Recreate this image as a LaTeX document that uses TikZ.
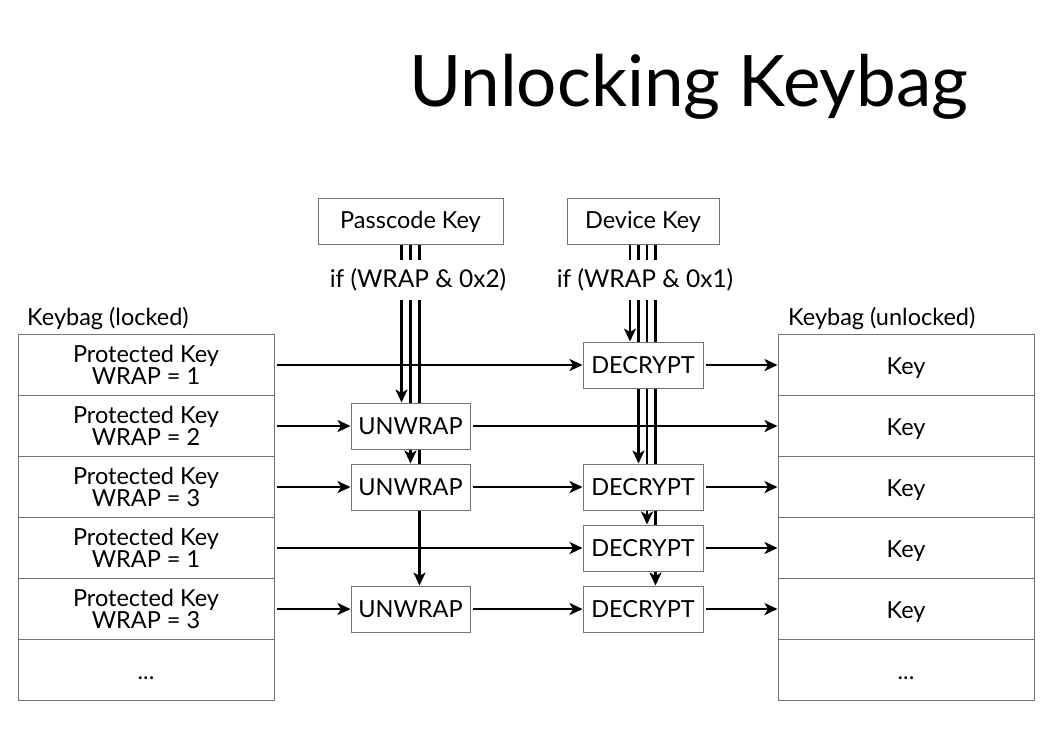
\documentclass[tikz,border=0pt]{standalone}
\usepackage{fontspec}
\setmainfont{Lato}
\usetikzlibrary{arrows.meta,backgrounds}
\begin{document}
\begin{tikzpicture}[x=1pt,y=-1pt,
  every node/.style={font=\fontsize{23.5}{22}\selectfont, inner sep=0pt},
  cellbox/.style={draw=black!55, line width=1pt, minimum width=256pt, minimum height=61pt},
  cell/.style={cellbox, align=center},
  onecell/.style={cellbox, text height=18pt, text depth=0pt},
  opbox/.style={draw=black!55, line width=1pt, fill=white, minimum width=120pt, minimum height=46pt},
  keybox/.style={draw=black!55, line width=1pt, fill=white, minimum height=46pt},
  arr/.style={line width=2.9pt, -{Stealth[length=13pt,width=12pt,inset=3.5pt]}},
  harr/.style={arr, shorten <=2.5pt},
  cond/.style={fill=white, minimum height=40pt, inner xsep=3pt, font=\fontsize{24.5}{24}\selectfont},
  lbl/.style={anchor=base west}
]
\useasboundingbox (0,0) rectangle (1059,740);

% title
\node[lbl, font=\fontsize{71}{71}\selectfont] (title) at (409,106) {Unlocking Keybag};

% keybag labels
\node[lbl] (kl) at (27,325) {Keybag (locked)};
\node[lbl] (ku) at (788,325) {Keybag (unlocked)};

% left cells
\node[cell] (L1) at (146,365) {Protected Key\\WRAP = 1};
\node[cell] (L2) at (146,426) {Protected Key\\WRAP = 2};
\node[cell] (L3) at (146,487) {Protected Key\\WRAP = 3};
\node[cell] (L4) at (146,548) {Protected Key\\WRAP = 1};
\node[cell] (L5) at (146,609) {Protected Key\\WRAP = 3};
\node[onecell] (L6) at (146,670) {...};

% right cells
\node[onecell] (R1) at (906,365) {Key};
\node[onecell] (R2) at (906,426) {Key};
\node[onecell] (R3) at (906,487) {Key};
\node[onecell] (R4) at (906,548) {Key};
\node[onecell] (R5) at (906,609) {Key};
\node[onecell] (R6) at (906,670) {...};

% key sources
\node[keybox, minimum width=185pt] (pk) at (410.5,221.5) {Passcode Key};
\node[keybox, minimum width=152pt] (dk) at (643,221.5) {Device Key};

% operations
\node[opbox, minimum width=119pt] (U1) at (410.5,426) {UNWRAP};
\node[opbox, minimum width=119pt] (U2) at (410.5,487) {UNWRAP};
\node[opbox, minimum width=119pt] (U3) at (410.5,609) {UNWRAP};
\node[opbox] (D1) at (643,365) {DECRYPT};
\node[opbox] (D2) at (643,487) {DECRYPT};
\node[opbox] (D3) at (643,548) {DECRYPT};
\node[opbox] (D4) at (643,609) {DECRYPT};

% wire start points
\coordinate (p1) at ([xshift=-9pt]pk.south);
\coordinate (p2) at (pk.south);
\coordinate (p3) at ([xshift=9pt]pk.south);
\coordinate (d1) at ([xshift=-13pt]dk.south);
\coordinate (d2) at ([xshift=-4.5pt]dk.south);
\coordinate (d3) at ([xshift=4pt]dk.south);
\coordinate (d4) at ([xshift=12.5pt]dk.south);

\begin{scope}[on background layer]
  \draw[arr] (p1) -- (p1 |- U1.north);
  \draw[arr] (p2) -- (p2 |- U2.north);
  \draw[arr] (p3) -- (p3 |- U3.north);
  \draw[arr] (d1) -- (d1 |- D1.north);
  \draw[arr] (d2) -- (d2 |- D2.north);
  \draw[arr] (d3) -- (d3 |- D3.north);
  \draw[arr] (d4) -- (d4 |- D4.north);
\end{scope}

% conditions
\node[cond] (c2) at (418,280) {if (WRAP \& 0x2)};
\node[cond] (c1) at (645,280) {if (WRAP \& 0x1)};

% horizontal flows
\draw[harr] (L1.east) -- (D1.west);
\draw[harr] (D1.east) -- (R1.west);
\draw[harr] (L2.east) -- (U1.west);
\draw[harr] (U1.east) -- (R2.west);
\draw[harr] (L3.east) -- (U2.west);
\draw[harr] (U2.east) -- (D2.west);
\draw[harr] (D2.east) -- (R3.west);
\draw[harr] (L4.east) -- (D3.west);
\draw[harr] (D3.east) -- (R4.west);
\draw[harr] (L5.east) -- (U3.west);
\draw[harr] (U3.east) -- (D4.west);
\draw[harr] (D4.east) -- (R5.west);
\end{tikzpicture}
\end{document}
